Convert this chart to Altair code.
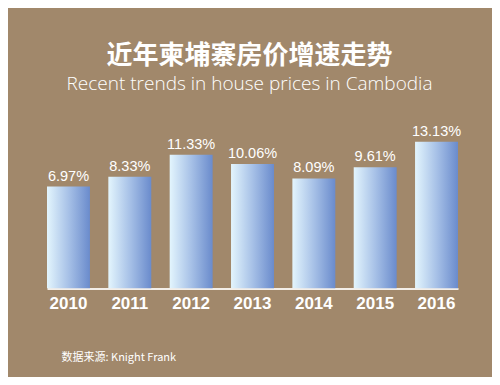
import altair as alt
import pandas as pd

years = ["2010", "2011", "2012", "2013", "2014", "2015", "2016"]
values = [6.97, 8.33, 11.33, 10.06, 8.09, 9.61, 13.13]
labels = ["6.97%", "8.33%", "11.33%", "10.06%", "8.09%", "9.61%", "13.13%"]

df = pd.DataFrame({"year": years, "value": values, "label": labels})

BG = "#a1886b"
WHITE = "#ffffff"

grad = alt.Gradient(
    gradient="linear",
    stops=[
        alt.GradientStop(color="#e3f5fd", offset=0),
        alt.GradientStop(color="#a7c1e7", offset=0.5),
        alt.GradientStop(color="#6a8bcc", offset=1),
    ],
    x1=0, x2=1, y1=0, y2=0,
)

x = alt.X(
    "year:N",
    sort=years,
    scale=alt.Scale(paddingInner=0.3, paddingOuter=0),
    axis=alt.Axis(
        title="数据来源: Knight Frank",
        titleFont="Noto Sans CJK SC",
        titleFontSize=11,
        titleFontWeight="normal",
        titleColor=WHITE,
        titleAnchor="start",
        titleAlign="left",
        titleBaseline="alphabetic",
        titleX=14,
        titleY=72,
        labelAngle=0,
        labelFont="Liberation Sans",
        labelFontSize=17,
        labelFontWeight="bold",
        labelColor=WHITE,
        labelPadding=7,
        ticks=False,
        domainColor="#f3eee8",
        domainWidth=2,
        grid=False,
    ),
)
y = alt.Y(
    "value:Q",
    scale=alt.Scale(domain=[-7, 20], nice=False, zero=False),
    axis=None,
)

bars = alt.Chart(df).mark_bar(color=grad, clip=True).encode(x=x, y=y, y2=alt.datum(-7))
text = alt.Chart(df).mark_text(
    baseline="bottom", dy=-3, font="Liberation Sans", fontSize=14.5, color=WHITE
).encode(x=alt.X("year:N", sort=years), y=alt.Y("value:Q"), text="label:N")

chart = (
    alt.layer(bars, text)
    .properties(
        width=411,
        height=197,
        background=BG,
        padding={"left": 39, "top": 83.5, "right": 34, "bottom": 88.5},
        autosize=alt.AutoSizeParams(type="none"),
        title=alt.TitleParams(
            text="近年柬埔寨房价增速走势",
            subtitle="Recent trends in house prices in Cambodia",
            font="Noto Sans CJK SC",
            fontSize=26,
            fontWeight="bold",
            color=WHITE,
            subtitleFont="Open Sans",
            subtitleFontSize=19,
            subtitleFontWeight=300,
            subtitleColor=WHITE,
            subtitlePadding=6,
            anchor="middle",
            offset=-2,
            dx=-3,
        ),
    )
    .configure_view(stroke=None)
)

chart.save("out.html", embed_options={"renderer": "svg", "actions": False})
